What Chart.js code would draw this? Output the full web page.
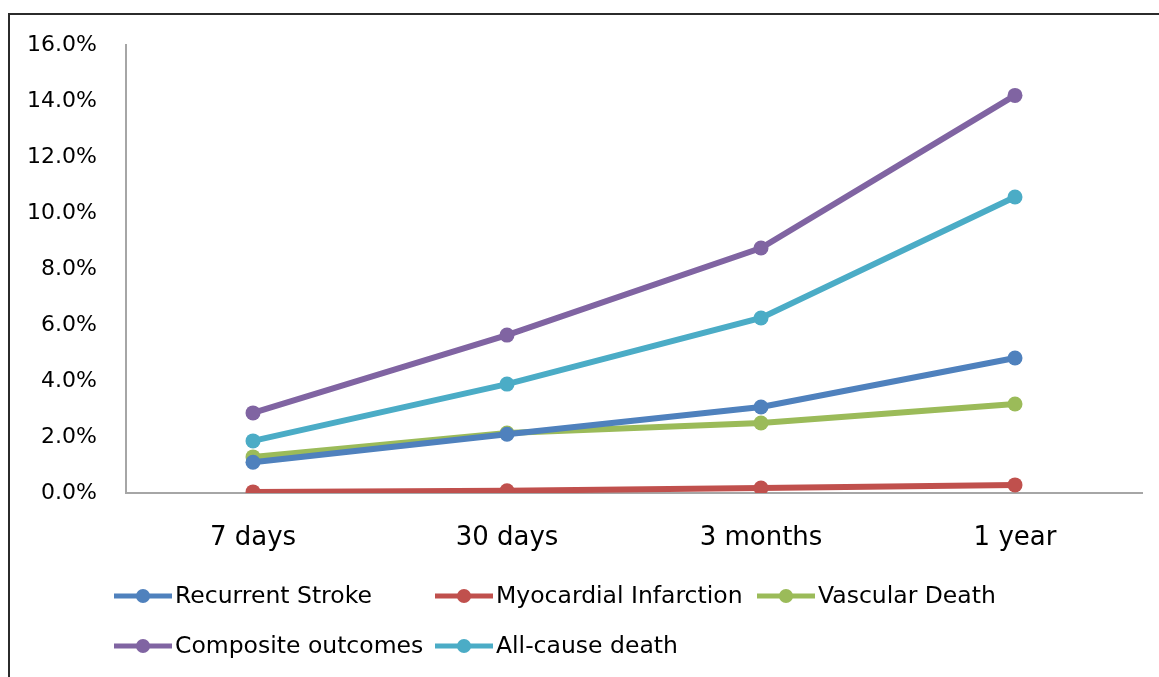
<!DOCTYPE html>
<html>
<head>
<meta charset="utf-8">
<script src="https://cdn.jsdelivr.net/npm/chart.js@4/dist/chart.umd.min.js"></script>
<style>
  html, body { margin: 0; padding: 0; background: #fff; }
  #wrap { width: 1159px; height: 677px; position: relative; }
</style>
</head>
<body>
<div id="wrap"><canvas id="mainChart" width="1159" height="677"></canvas></div>
<script>
// valeurs (en %)
const periods = ['7 days', '30 days', '3 months', '1 year'];
const recurrentStroke = [1.10, 2.10, 3.07, 4.82];
const myocardialInfarction = [0.04, 0.08, 0.18, 0.29];
const vascularDeath = [1.29, 2.14, 2.50, 3.18];
const compositeOutcomes = [2.86, 5.64, 8.75, 14.20];
const allCauseDeath = [1.86, 3.89, 6.25, 10.57];

const seriesNames = ['Recurrent Stroke', 'Myocardial Infarction', 'Vascular Death', 'Composite outcomes', 'All-cause death'];
const seriesColors = ['#4F81BD', '#C0504D', '#9BBB59', '#8064A2', '#4BACC6'];

const FONT = '"DejaVu Sans", sans-serif';

function makeDataset(i, values) {
    return {
        label: seriesNames[i],
        data: values,
        borderColor: seriesColors[i],
        backgroundColor: seriesColors[i],
        borderWidth: 6,
        pointRadius: 7.5,
        pointHoverRadius: 7.5,
        pointBorderWidth: 0,
        tension: 0
    };
}

// cadre + légende dessinés à la main
const frameLegendPlugin = {
    id: 'frameLegend',
    afterDraw(chart) {
        const ctx = chart.ctx;
        ctx.save();
        ctx.strokeStyle = '#2b2b2b';
        ctx.lineWidth = 2;
        ctx.beginPath();
        ctx.moveTo(9, 677);
        ctx.lineTo(9, 14);
        ctx.lineTo(1159, 14);
        ctx.stroke();

        const slots = [
            [114, 596], [435, 596], [757, 596],
            [114, 646], [435, 646]
        ];
        ctx.font = '23.5px ' + FONT;
        ctx.textBaseline = 'middle';
        chart.data.datasets.forEach((ds, i) => {
            const [x, y] = slots[i];
            ctx.strokeStyle = ds.borderColor;
            ctx.lineWidth = 5;
            ctx.beginPath();
            ctx.moveTo(x, y);
            ctx.lineTo(x + 58, y);
            ctx.stroke();
            ctx.fillStyle = ds.borderColor;
            ctx.beginPath();
            ctx.arc(x + 29, y, 7, 0, Math.PI * 2);
            ctx.fill();
            ctx.fillStyle = '#000';
            ctx.fillText(ds.label, x + 61, y + 1);
        });
        ctx.restore();
    }
};

const ctx = document.getElementById('mainChart').getContext('2d');
const chart = new Chart(ctx, {
    type: 'line',
    data: {
        labels: periods,
        datasets: [
            makeDataset(0, recurrentStroke),
            makeDataset(1, myocardialInfarction),
            makeDataset(2, vascularDeath),
            makeDataset(3, compositeOutcomes),
            makeDataset(4, allCauseDeath)
        ]
    },
    options: {
        responsive: false,
        animation: false,
        layout: { padding: { top: 45, right: 17, left: 0, bottom: 0 } },
        plugins: {
            legend: { display: false },
            tooltip: { enabled: false }
        },
        scales: {
            x: {
                offset: true,
                grid: { display: false, drawTicks: false },
                border: { display: true, color: '#A6A6A6', width: 2 },
                ticks: {
                    color: '#000',
                    padding: 30,
                    font: { family: FONT, size: 26 }
                },
                afterFit: (scale) => { scale.height = 184; }
            },
            y: {
                min: 0,
                max: 16,
                grid: { display: false, drawTicks: false },
                border: { display: true, color: '#A6A6A6', width: 2 },
                ticks: {
                    stepSize: 2,
                    color: '#000',
                    padding: 29,
                    font: { family: FONT, size: 22 },
                    callback: (v) => v.toFixed(1) + '%'
                },
                afterFit: (scale) => { scale.width = 126; }
            }
        }
    },
    plugins: [frameLegendPlugin]
});
</script>
</body>
</html>
